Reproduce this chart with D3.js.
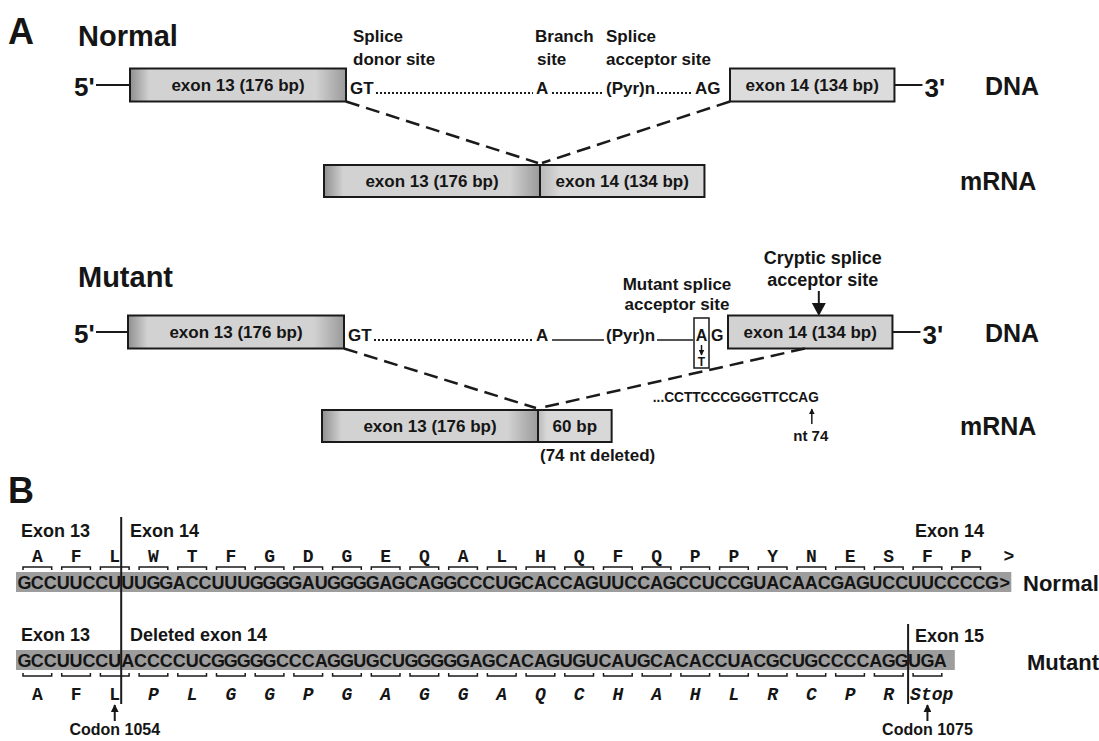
<!DOCTYPE html>
<html>
<head>
<meta charset="utf-8">
<script src="https://cdn.jsdelivr.net/npm/d3@7"></script>
<style>
  body { margin: 0; background: #fff; }
  svg { display: block; }
  text { font-family: "Liberation Sans", Arial, sans-serif; font-weight: bold; fill: #151515; }
  .aa { font-family: "Liberation Mono", "Courier New", monospace; }
</style>
</head>
<body>
<svg id="fig" width="1099" height="741"></svg>
<script>
// exon sizes in bp
const exonNames = ["exon 13", "exon 14"];
const exonBp = [176, 134];
const deletedNt = 74;

// intron landmarks
const intronMarks = ["GT", "A", "(Pyr)n", "AG"];
const topLabels = [["Splice", "donor site"], ["Branch", "site"], ["Splice", "acceptor site"]];
const mutantLabels = [["Mutant splice", "acceptor site"], ["Cryptic splice", "acceptor site"]];
const crypticSeq = "...CCTTCCCGGGTTCCAG";

// panel B: codons and amino acids
const normalCodons = ["GCC","UUC","CUU","UGG","ACC","UUU","GGG","GAU","GGG","GAG","CAG","GCC","CUG",
  "CAC","CAG","UUC","CAG","CCU","CCG","UAC","AAC","GAG","UCC","UUC","CCC","G",">"];
const normalAA = ["A","F","L","W","T","F","G","D","G","E","Q","A","L","H","Q","F","Q","P","P","Y","N","E","S","F","P"];
const mutantCodons = ["GCC","UUC","CUA","CCC","CUC","GGG","GGC","CCA","GGU","GCU","GGG","GGA","GCA","CAG",
  "UGU","CAU","GCA","CAC","CUA","CGC","UGC","CCC","AGG","UGA"];
const mutantAA = ["A","F","L","P","L","G","G","P","G","A","G","G","A","Q","C","H","A","H","L","R","C","P","R","Stop"];
const codonNotes = [{codon: 2, label: "Codon 1054"}, {codon: 23, label: "Codon 1075"}];

const svg = d3.select("#fig");
const defs = svg.append("defs");

const g13 = defs.append("linearGradient").attr("id", "g13");
[[0, "#8f8f8f"], [0.09, "#d2d2d2"], [0.86, "#d2d2d2"], [1, "#9a9a9a"]]
  .forEach(s => g13.append("stop").attr("offset", s[0]).attr("stop-color", s[1]));
const g14 = defs.append("linearGradient").attr("id", "g14");
[[0, "#b8b8b8"], [0.12, "#d8d8d8"], [1, "#d8d8d8"]]
  .forEach(s => g14.append("stop").attr("offset", s[0]).attr("stop-color", s[1]));

defs.append("marker").attr("id", "head").attr("viewBox", "0 0 10 10")
  .attr("refX", 9).attr("refY", 5).attr("markerWidth", 4).attr("markerHeight", 4)
  .attr("orient", "auto")
  .append("path").attr("d", "M0,0L10,5L0,10z").attr("fill", "#151515");

// bp -> px for the boxes
const bp = d3.scaleLinear().domain([0, exonBp[0]]).range([0, 216]);

function box(x, yc, w, h, label, fill) {
  svg.append("rect").attr("x", x).attr("y", yc - h / 2).attr("width", w).attr("height", h)
    .attr("fill", fill).attr("stroke", "#1a1a1a").attr("stroke-width", 2);
  svg.append("text").attr("x", x + w / 2).attr("y", yc + 6).attr("text-anchor", "middle")
    .attr("font-size", 17).text(label);
}
function txt(x, y, s, size, anchor) {
  return svg.append("text").attr("x", x).attr("y", y).attr("font-size", size)
    .attr("text-anchor", anchor || "start").text(s);
}
function line(x1, y1, x2, y2, w, dash) {
  return svg.append("line").attr("x1", x1).attr("y1", y1).attr("x2", x2).attr("y2", y2)
    .attr("stroke", "#1a1a1a").attr("stroke-width", w).attr("stroke-dasharray", dash || null);
}

// ---------- panel A ----------
txt(8, 44, "A", 36);
txt(78, 46, "Normal", 29);
txt(78, 287, "Mutant", 29);

function dnaRow(yc, x13, x14, mutant) {
  const h = 33;
  const w13 = bp(exonBp[0]), w14 = bp(exonBp[1]);
  txt(74, yc + 11, "5'", 26);
  line(96, yc, x13, yc, 2);
  box(x13, yc, w13, h, `${exonNames[0]} (${exonBp[0]} bp)`, "url(#g13)");
  box(x14, yc, w14, h, `${exonNames[1]} (${exonBp[1]} bp)`, mutant ? "#d2d2d2" : "#dcdcdc");
  line(x14 + w14, yc, x14 + w14 + 28, yc, 2);
  txt(x14 + w14 + 30, yc + 12, "3'", 26);
  txt(985, yc + 10, "DNA", 25);
  const by = yc + 8;
  const e = x13 + w13;
  txt(e + 4, yc + 9, intronMarks[0], 17);
  line(e + 30, by, 533, by, 2, "2,2");
  txt(536, yc + 9, intronMarks[1], 17);
  line(552, by, 604, by, mutant ? 1.5 : 2, mutant ? null : "2,2");
  txt(606, yc + 9, intronMarks[2], 17);
  line(657, by, 693, by, mutant ? 1.5 : 2, mutant ? null : "2,2");
  if (!mutant) {
    txt(695, yc + 9, intronMarks[3], 17);
  } else {
    svg.append("rect").attr("x", 694).attr("y", yc - 14).attr("width", 15).attr("height", 50)
      .attr("fill", "none").attr("stroke", "#1a1a1a").attr("stroke-width", 1.5);
    txt(701.5, yc + 9, "A", 16, "middle");
    line(701.5, yc + 13, 701.5, yc + 23, 1.5).attr("marker-end", "url(#head)");
    txt(701.5, yc + 34, "T", 12, "middle");
    txt(711, yc + 9, "G", 16);
  }
  return {e13: e, x14: x14, bottom: yc + h / 2};
}

function mrnaRow(yc, x, w2, label2) {
  const h = 32, w13 = bp(exonBp[0]);
  box(x, yc, w13, h, `${exonNames[0]} (${exonBp[0]} bp)`, "url(#g13)");
  box(x + w13, yc, w2, h, label2, "url(#g14)");
  txt(960, yc + 9, "mRNA", 25);
  return {mid: x + w13, top: yc - h / 2};
}

// normal
topLabels.forEach((l, i) => {
  const x = [353, 535, 606][i];
  txt(x, 42, l[0], 17);
  txt(x + (i === 1 ? 2 : 0), 65, l[1], 17);
});
const d1 = dnaRow(85, 130, 730, false);
const m1 = mrnaRow(181, 324, bp(exonBp[1]), `${exonNames[1]} (${exonBp[1]} bp)`);
line(d1.e13, d1.bottom, m1.mid - 2, m1.top - 2, 2.5, "14,7");
line(d1.x14, d1.bottom, m1.mid + 2, m1.top - 2, 2.5, "14,7");

// mutant
const crypticX = 728 + bp(deletedNt);
txt(677, 290, mutantLabels[0][0], 17, "middle");
txt(677, 310, mutantLabels[0][1], 17, "middle");
txt(crypticX + 4, 264, mutantLabels[1][0], 18, "middle");
txt(crypticX + 4, 286, mutantLabels[1][1], 18, "middle");
line(crypticX, 291, crypticX, 305, 2);
svg.append("path").attr("d", `M${crypticX - 7},303L${crypticX + 7},303L${crypticX},316z`).attr("fill", "#151515");

const d2 = dnaRow(332, 128, 728, true);
const m2 = mrnaRow(426, 322, bp(exonBp[1] - deletedNt), `${exonBp[1] - deletedNt} bp`);
line(d2.e13, d2.bottom, m2.mid - 2, m2.top - 2, 2.5, "14,7");
line(crypticX - 14, d2.bottom, m2.mid + 2, m2.top - 2, 2.5, "14,7");

txt(crypticX, 402, crypticSeq, 14, "end").attr("textLength", 166).attr("lengthAdjust", "spacingAndGlyphs");
line(crypticX - 7, 424, crypticX - 7, 409, 1.5).attr("marker-end", "url(#head)");
txt(crypticX - 8, 441, `nt ${deletedNt}`, 15, "middle");
txt(540, 461, `(${deletedNt} nt deleted)`, 17);

// ---------- panel B ----------
txt(8, 503, "B", 36);

const normalSeq = normalCodons.join("").split("");
const mutantSeq = mutantCodons.join("").split("");
const nt = d3.scaleLinear().domain([0, normalSeq.length]).range([18, 18 + normalSeq.length * 12.9]);

function seqRow(seq, yc, bandEnd) {
  svg.append("rect").attr("x", nt(0) - 2).attr("y", yc - 10).attr("width", bandEnd - nt(0) + 2)
    .attr("height", 20).attr("fill", "#9d9d9d");
  svg.append("g").selectAll("text").data(seq).join("text")
    .attr("x", (d, i) => nt(i + 0.5)).attr("y", yc + 7)
    .attr("text-anchor", "middle").attr("font-size", 18).text(d => d);
}
function aaRow(aa, yBase, yBr, dir, italicFrom) {
  const g = svg.append("g");
  g.selectAll("path").data(aa).join("path")
    .attr("d", (d, i) => {
      const a = nt(3 * i) + 5, b = nt(3 * i + 3) - 5;
      return `M${a},${yBr + 3 * dir}L${a},${yBr}L${b},${yBr}L${b},${yBr + 3 * dir}`;
    })
    .attr("fill", "none").attr("stroke", "#1a1a1a").attr("stroke-width", 1.5);
  g.selectAll("text").data(aa).join("text").attr("class", "aa")
    .attr("x", (d, i) => d === "Stop" ? nt(3 * i) + 2 : nt(3 * i + 1.5))
    .attr("y", yBase).attr("font-size", 18)
    .attr("text-anchor", d => d === "Stop" ? "start" : "middle")
    .attr("font-style", (d, i) => i >= italicFrom ? "italic" : "normal")
    .text(d => d);
}

txt(21, 537, "Exon 13", 18);
txt(130, 537, "Exon 14", 18);
txt(915, 537, "Exon 14", 18);
aaRow(normalAA, 562, 567, 1, 99);
svg.append("text").attr("class", "aa").attr("x", nt(76.4)).attr("y", 562).attr("font-size", 18).text(">");
seqRow(normalSeq, 582, nt(normalSeq.length));
txt(1023, 591, "Normal", 22);

txt(21, 641, "Exon 13", 18);
txt(130, 641, "Deleted exon 14", 18);
txt(915, 642, "Exon 15", 18);
seqRow(mutantSeq, 660, nt(mutantSeq.length) + 8);
aaRow(mutantAA, 700, 676, -1, 3);
txt(1027, 670, "Mutant", 22);

// exon boundaries
line(nt(8), 517, nt(8), 704, 2);
line(nt(69), 624, nt(69), 704, 2);

codonNotes.forEach(c => {
  const x = nt(3 * c.codon + 1.5);
  line(x, 721, x, 705, 2).attr("marker-end", "url(#head)");
  txt(x, 735, c.label, 16, "middle");
});
</script>
</body>
</html>
